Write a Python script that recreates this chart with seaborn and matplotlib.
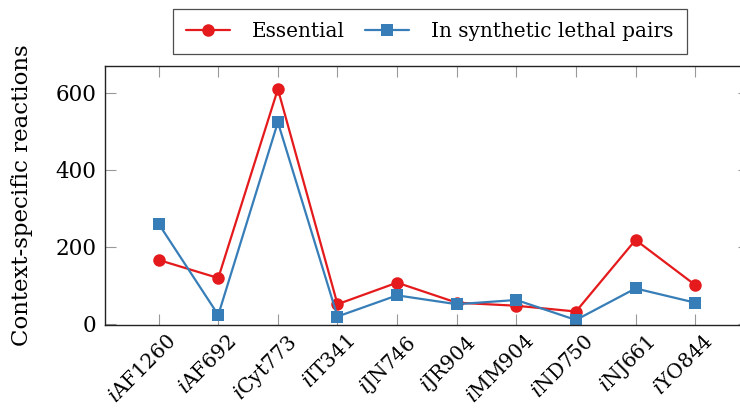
import matplotlib
matplotlib.use("Agg")
import matplotlib.pyplot as plt
import seaborn as sns
import pandas as pd
from matplotlib.lines import Line2D

models = ["AF1260", "AF692", "Cyt773", "IT341", "JN746", "JR904", "MM904", "ND750", "NJ661", "YO844"]
essential = [166, 119, 610, 51, 107, 55, 47, 32, 218, 101]
synthetic_lethal = [260, 23, 524, 19, 74, 51, 62, 10, 92, 55]
tick_labels = [r"$\mathit{i}$" + m for m in models]
series_names = ["Essential", "In synthetic lethal pairs"]
colors = ["#E41A1C", "#377EB8"]

sns.set_theme(style="white")
plt.rcParams["font.family"] = ["DejaVu Serif"]
plt.rcParams["mathtext.fontset"] = "dejavuserif"
plt.rcParams["text.color"] = "black"
plt.rcParams["axes.labelcolor"] = "black"
plt.rcParams["xtick.color"] = "black"
plt.rcParams["ytick.color"] = "black"

df = pd.DataFrame({"model": list(range(len(models))) * 2,
                   "value": essential + synthetic_lethal,
                   "series": [series_names[0]] * len(models) + [series_names[1]] * len(models)})

fig = plt.figure(figsize=(7.4, 4.15), dpi=100)
ax = fig.add_axes([0.1419, 0.2169, 0.870, 0.624])

sns.lineplot(data=df, x="model", y="value", hue="series", style="series",
             markers={series_names[0]: "o", series_names[1]: "s"}, dashes=False,
             palette=colors, linewidth=1.6, markersize=9, markeredgewidth=0,
             ax=ax, legend=False)

ax.set_xlim(-0.9, 9.9)
ax.set_ylim(-3, 670)
ax.set_xticks(range(len(models)))
ax.set_xticklabels(tick_labels, rotation=45, ha="right", rotation_mode="anchor", fontsize=14.5)
ax.set_yticks([0, 200, 400, 600])
ax.set_yticklabels(["0", "200", "400", "600"], fontsize=15.5)
ax.set_xlabel("")
ax.set_ylabel("Context-specific reactions", fontsize=16.5, labelpad=16)
ax.tick_params(axis="both", direction="in", length=8, width=0.8, color="#999999",
               labelcolor="black", top=True, right=True, bottom=True, left=True, pad=6)
ax.tick_params(axis="x", pad=5)
for lbl in ax.get_xticklabels():
    lbl.set_x(lbl.get_position()[0])
for s in ax.spines.values():
    s.set_color("#222222")
    s.set_linewidth(1.0)

# shift tick labels slightly right so their ends sit just past the tick
import matplotlib.transforms as mtransforms
offset = mtransforms.ScaledTranslation(8 / 100, 0, fig.dpi_scale_trans)
for lbl in ax.get_xticklabels():
    lbl.set_transform(lbl.get_transform() + offset)

handles = [Line2D([], [], color=colors[0], marker="o", markersize=9, markeredgewidth=0, linewidth=1.6),
           Line2D([], [], color=colors[1], marker="s", markersize=8, markeredgewidth=0, linewidth=1.6)]
leg = fig.legend(handles, series_names, loc="center", bbox_to_anchor=(0.581, 0.925), ncol=2,
                 frameon=True, fancybox=False, fontsize=14.4, handlelength=2.2, handletextpad=1.1,
                 columnspacing=1.0, borderpad=0.65)
leg.get_frame().set_edgecolor("#222222")
leg.get_frame().set_linewidth(0.9)
for t in leg.get_texts():
    t.set_color("black")

fig.savefig("out.png", dpi=100)
